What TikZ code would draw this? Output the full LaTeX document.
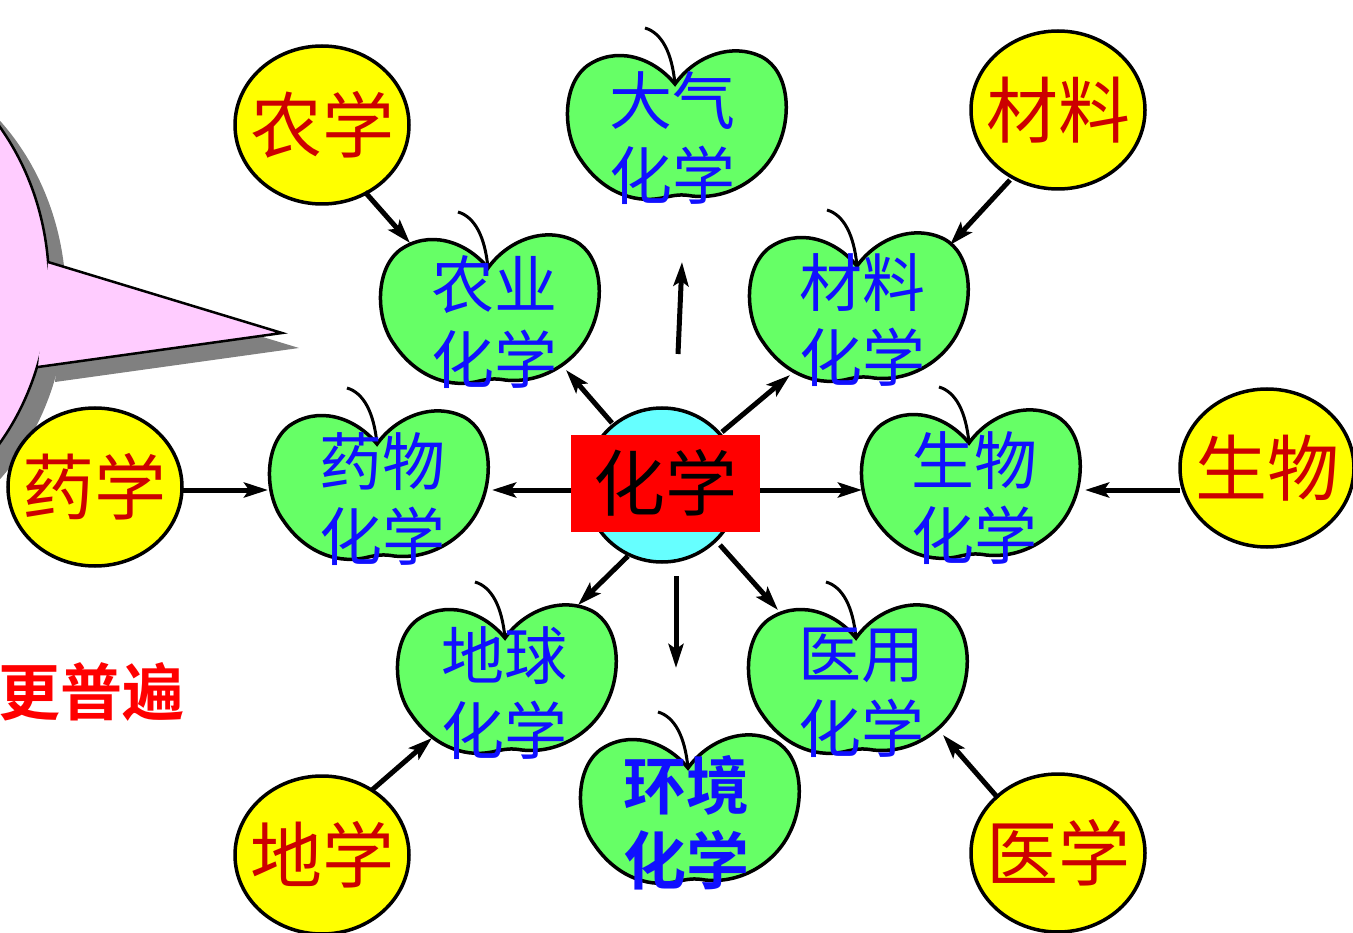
\documentclass[tikz,border=0pt]{standalone}
\usepackage{fontspec}
\newfontfamily\cjk[BoldFont={Noto Sans CJK SC Bold}]{Noto Sans CJK SC}
\usetikzlibrary{arrows.meta,shapes.geometric}
\definecolor{appleg}{HTML}{66FF66}
\definecolor{yel}{HTML}{FFFF00}
\definecolor{cyanc}{HTML}{66FFFF}
\definecolor{dred}{HTML}{CC0000}
\definecolor{bluet}{HTML}{1010FF}
\definecolor{pinkb}{HTML}{FFCCFF}
\definecolor{shadowg}{HTML}{808080}
\tikzset{
  applebody/.style={draw=black,line width=3.5pt,fill=appleg},
  stemline/.style={draw=black,line width=3pt},
  pics/apple/.style={code={
    \path[applebody] (-2,-44) .. controls (-25,-72) and (-62,-82) .. (-90,-62)
      .. controls (-116,-42) and (-114,8) .. (-96,32)
      .. controls (-76,62) and (-45,76) .. (-15,70)
      .. controls (-2,67) and (4,66) .. (15,68)
      .. controls (52,72) and (86,50) .. (100,20)
      .. controls (115,-10) and (113,-56) .. (85,-71)
      .. controls (55,-86) and (18,-72) .. cycle;
    \path[stemline] (-32,-100) .. controls (-15,-95) and (-5,-75) .. (-2,-44);
  }},
  appletext/.style={text=bluet,align=center,inner sep=0pt,
    font=\cjk\fontsize{63}{75}\selectfont},
  yelnode/.style={ellipse,draw=black,line width=3.5pt,fill=yel,minimum width=174pt,
    minimum height=158pt,inner sep=0pt},
  yeltext/.style={inner sep=0pt,text=dred,font=\cjk\fontsize{72}{72}\selectfont},
  arr/.style={line width=5pt,-{Stealth[length=24pt,width=15pt,inset=5pt]}},
}
\begin{document}
\begin{tikzpicture}[x=1pt,y=-1pt]
\useasboundingbox (0,0) rectangle (1353,933);
% speech bubble
\begin{scope}[shift={(17,15)}]
  \fill[shadowg] (-169,285) ellipse[x radius=218,y radius=250];
  \fill[shadowg] (48,262) -- (282,333) -- (38,367) -- cycle;
\end{scope}
\path[fill=pinkb,draw=black,line width=2.5pt] (-169,285) ellipse[x radius=218,y radius=250];
\fill[pinkb] (48,262) -- (282,333) -- (38,367) -- cycle;
\draw[line width=2.5pt,line join=miter] (48,262) -- (282,333) -- (38,367);
\node[text=red,anchor=east,inner sep=0pt,font=\cjk\bfseries\fontsize{62}{62}\selectfont] (gengpubian) at (185,692) {更普遍};

% apples
\pic at (677,128) {apple};
\pic at (490,312) {apple};
\pic at (859,310) {apple};
\pic at (379,488) {apple};
\pic at (971,487) {apple};
\pic at (507,682) {apple};
\pic at (858,682) {apple};
\pic at (690,812) {apple};
\node[appletext] (daqi) at (672,138) {大气\\化学};
\node[appletext] (nongye) at (494,322) {农业\\化学};
\node[appletext] (cailiaohx) at (862,320) {材料\\化学};
\node[appletext] (yaowu) at (382,499) {药物\\化学};
\node[appletext] (shengwu) at (974,498) {生物\\化学};
\node[appletext] (diqiu) at (504,693) {地球\\化学};
\node[appletext] (yiyong) at (861,693) {医用\\化学};
\node[appletext,font=\cjk\bfseries\fontsize{63}{75}\selectfont] (huanjing) at (686,823) {环境\\化学};

% yellow circles
\node[yelnode] (nongxue) at (322,125) {};
\node[yelnode] (cailiao) at (1058,110) {};
\node[yelnode] (yaoxue) at (95,487) {};
\node[yelnode] (shengwuy) at (1267,468) {};
\node[yelnode] (dixue) at (322,855) {};
\node[yelnode] (yixue) at (1058,853) {};
\node[yeltext] (t1) at (nongxue) {农学};
\node[yeltext] (t2) at (cailiao) {材料};
\node[yeltext] (t3) at (yaoxue) {药学};
\node[yeltext] (t4) at (shengwuy) {生物};
\node[yeltext] (t5) at (dixue) {地学};
\node[yeltext] (t6) at (yixue) {医学};

% coordinates
\coordinate (c1s) at (678,354); \coordinate (c1e) at (682,262);
\coordinate (c2s) at (612,423); \coordinate (c2e) at (566,370);
\coordinate (c3s) at (722,432); \coordinate (c3e) at (790,375);
\coordinate (c4s) at (580,490); \coordinate (c4e) at (492,490);
\coordinate (c5s) at (750,490); \coordinate (c5e) at (862,490);
\coordinate (c6s) at (628,556); \coordinate (c6e) at (578,605);
\coordinate (c7s) at (676,576); \coordinate (c7e) at (676,668);
\coordinate (c8s) at (720,545); \coordinate (c8e) at (778,610);
\coordinate (y1s) at (365,192); \coordinate (y1e) at (410,243);
\coordinate (y2s) at (1010,180); \coordinate (y2e) at (950,245);
\coordinate (y3s) at (182,490); \coordinate (y3e) at (268,490);
\coordinate (y4s) at (1180,490); \coordinate (y4e) at (1085,490);
\coordinate (y5s) at (372,790); \coordinate (y5e) at (432,738);
\coordinate (y6s) at (998,798); \coordinate (y6e) at (943,735);

\foreach \a in {c1,c2,c3,c4,c5,c6,c7,c8,y1,y2,y3,y4,y5,y6}
  \draw[arr] (\a s) -- (\a e);

% center
\node[circle,draw=black,line width=3.5pt,fill=cyanc,minimum size=154pt,inner sep=0pt] (huaxuec) at (662,485) {};
\node[fill=red,minimum width=189pt,minimum height=97pt,inner sep=0pt,
  font=\cjk\fontsize{72}{72}\selectfont] (huaxue) at (665,483) {化学};
\end{tikzpicture}
\end{document}
